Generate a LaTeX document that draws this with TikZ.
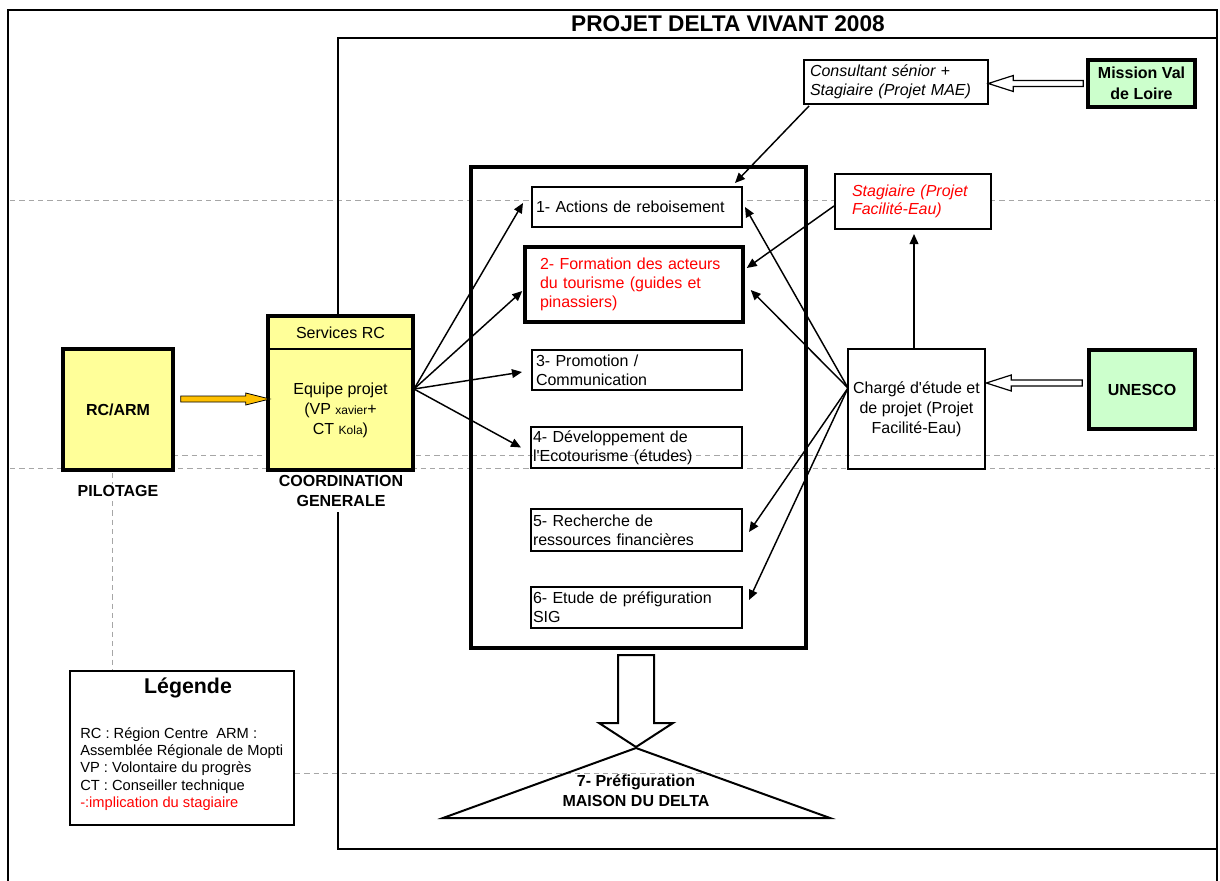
\documentclass[tikz,border=0pt]{standalone}
\usepackage{fontspec}
\setmainfont{Liberation Sans}[Ligatures=TeXOff]
\usetikzlibrary{arrows.meta,calc}
\definecolor{lyellow}{HTML}{FFFF99}
\definecolor{lgreen}{HTML}{CCFFCC}
\definecolor{goldarrow}{HTML}{FFC000}
\definecolor{dashgray}{HTML}{A6A6A6}
\definecolor{redtxt}{HTML}{FF0000}
\begin{document}
\begin{tikzpicture}[x=0.75pt,y=-0.75pt,
  frame/.style={line width=1.5pt},
  box/.style={draw, line width=1.5pt, fill=white, inner ysep=0pt, font=\fontsize{12}{14.3}\selectfont},
  ybox/.style={draw, line width=2.6pt, fill=lyellow, inner sep=0pt, font=\fontsize{12}{15}\selectfont, align=center},
  gbox/.style={draw, line width=2.6pt, fill=lgreen, inner sep=0pt, font=\bfseries\fontsize{12}{15.5}\selectfont, align=center},
  lbl/.style={font=\bfseries\fontsize{12}{15}\selectfont, align=center, inner sep=1pt},
  conn/.style={line width=1.1pt, -{Triangle[length=7.5pt,width=6.5pt]}},
  hollow/.style={draw, line width=0.9pt, fill=white},
  dline/.style={draw=dashgray, line width=0.75pt, dash pattern=on 4pt off 3pt},
]
\useasboundingbox (0,0) rectangle (1220,881);

% dashed guide lines
\draw[dline] (10,200) -- (1215,200);
\draw[dline] (173,455) -- (1215,455);
\draw[dline] (10,468) -- (1215,468);
\draw[dline] (295,773) -- (1215,773);
\draw[dline] (112,473) -- (112,671);

% frames
\draw[frame] (8,890) -- (8,10) -- (1217,10) -- (1217,890);
\draw[frame] (338,316) -- (338,38) -- (1217,38) -- (1217,849) -- (338,849) -- (338,512);
\node[font=\bfseries\fontsize{17}{20}\selectfont] (title) at (728,24) {PROJET DELTA VIVANT 2008};

% central box
\node[draw, line width=3pt, minimum width=251.25pt, minimum height=360.75pt, inner sep=0pt] (central) at (638.5,407.5) {};

% task boxes
\node[box, minimum width=157.5pt, minimum height=30pt, text width=151.5pt, inner xsep=3pt, align=left] (b1) at (637,207) {1- Actions de reboisement};
\node[box, line width=2.6pt, minimum width=163.5pt, minimum height=56.25pt, text width=141pt, inner xsep=11.25pt, align=left, text=redtxt] (b2) at (634,284.5) {2- Formation des acteurs\\du tourisme (guides et\\pinassiers)};
\node[box, minimum width=157.5pt, minimum height=30pt, text width=151.5pt, inner xsep=3pt, align=left] (b3) at (637,370) {3- Promotion /\\Communication};
\node[box, fill=none, minimum width=158.25pt, minimum height=30.75pt, text width=155.25pt, inner xsep=1.5pt, align=left] (b4) at (636.5,447.5) {4- Développement de\\l'Ecotourisme (études)};
\node[box, minimum width=158.25pt, minimum height=31.5pt, text width=155.25pt, inner xsep=1.5pt, align=left] (b5) at (636.5,530) {5- Recherche de\\ressources financières};
\node[box, minimum width=158.25pt, minimum height=30.75pt, text width=155.25pt, inner xsep=1.5pt, align=left] (b6) at (636.5,607.5) {6- Etude de préfiguration\\SIG};

% left side
\node[ybox, minimum width=82.5pt, minimum height=90.75pt, font=\bfseries\fontsize{12}{15}\selectfont] (rc) at (118,409.5) {RC/ARM};
\node[ybox, minimum width=108.75pt, minimum height=115.5pt] (coord) at (340.5,393) {};
\draw[line width=2pt] (coord.west |- 0,349) -- (coord.east |- 0,349);
\node[font=\fontsize{12}{15}\selectfont] (srv) at (340.5,333) {Services RC};
\node[font=\fontsize{12}{15}\selectfont, align=center] (eq) at (340.5,410) {Equipe projet\\(VP {\fontsize{9}{10}\selectfont xavier}+\\CT {\fontsize{9}{10}\selectfont Kola})};
\node[lbl, fill=white] (pil) at (118,491) {PILOTAGE};
\node[lbl] (cg) at (341,491) {COORDINATION\\GENERALE};

\draw[draw=black, line width=0.6pt, fill=goldarrow] (rc.east) ++(6,-13.5) -- ++(65,0) -- ++(0,-3) -- ++(24,6) -- ++(-24,6) -- ++(0,-3) -- ++(-65,0) -- cycle;

% right side
\node[box, minimum width=138pt, minimum height=33pt, text width=129pt, inner xsep=4.5pt, align=left, font=\itshape\fontsize{12}{14.3}\selectfont] (cons) at (896,82) {Consultant sénior +\\Stagiaire (Projet MAE)};
\node[gbox, minimum width=80.25pt, minimum height=35.25pt] (mvl) at (1141.5,83.5) {Mission Val\\de Loire};
\node[box, minimum width=117pt, minimum height=41.25pt, text width=91.5pt, inner xsep=12.75pt, align=left, text=redtxt, font=\itshape\fontsize{12}{13.5}\selectfont] (stag) at (913,201.5) {Stagiaire (Projet\\Facilité-Eau)};
\node[box, fill=none, minimum width=102.75pt, minimum height=90pt, inner xsep=1pt, align=center, font=\fontsize{12}{15}\selectfont] (ch) at (916.5,409) {Chargé d'étude et\\de projet (Projet\\Facilité-Eau)};
\node[gbox, minimum width=79.5pt, minimum height=59.25pt] (un) at (1142,389.5) {UNESCO};

\draw[hollow] (mvl.west) ++(-3,-3) -- ++(-70,0) -- ++(0,-5) -- ++(-25,8) -- ++(25,8) -- ++(0,-5) -- ++(70,0) -- cycle;
\draw[hollow] (un.west) ++(-5,-9.5) -- ++(-71,0) -- ++(0,-5) -- ++(-25,8) -- ++(25,8) -- ++(0,-5) -- ++(71,0) -- cycle;

% connectors
\coordinate (cE) at (414,389);
\coordinate (chW) at (848,388);
\draw[conn] (cE) -- ($(b1.west)+(-8,-4)$);
\draw[conn] (cE) -- ($(b2.west)+(-1,6.5)$);
\draw[conn] (cE) -- ($(b3.west)+(-9,2)$);
\draw[conn] (cE) -- ($(b4.west)+(-9,0)$);
\draw[conn] (chW) -- ($(b1.east)+(2,0)$);
\draw[conn] (chW) -- ($(b2.east)+(6,5.5)$);
\draw[conn] (chW) -- ($(b5.east)+(6,2)$);
\draw[conn] (chW) -- ($(b6.east)+(6,-7.5)$);
\draw[conn] ($(stag.west)+(0,4.5)$) -- ($(b2.east)+(2,-16.5)$);
\draw[conn] ($(cons.south west)+(6,1)$) -- ($(b1.north east)+(-8,-3)$);
\draw[conn] ($(ch.north)+(-2.5,0)$) -- ($(stag.south)+(1,4)$);

% bottom arrow and triangle
\draw[hollow, line width=1.5pt] (central.south) ++(-20.5,5) -- ++(36,0) -- ++(0,68) -- ++(19,0) -- ++(-37,24) -- ++(-37,-24) -- ++(19,0) -- cycle;
\coordinate (apex) at (636,748);
\draw[line width=1.5pt, line join=miter] (apex) -- (443,818) -- (830,818) -- cycle;
\node[lbl] (tri) at (636,791) {7- Préfiguration\\MAISON DU DELTA};

% legend
\node[draw, line width=1.5pt, fill=white, minimum width=168pt, minimum height=115.5pt] (leg) at (182,748) {};
\node[font=\bfseries\fontsize{16}{18}\selectfont] (legt) at (188,688) {Légende};
\node[anchor=north west, align=left, inner sep=0pt, font=\fontsize{11}{12.9}\selectfont] (legx) at (80,727.5) {RC : Région Centre\ \ ARM :\\Assemblée Régionale de Mopti\\VP : Volontaire du progrès\\CT : Conseiller technique\\\textcolor{redtxt}{-:implication du stagiaire}};
\end{tikzpicture}
\end{document}
